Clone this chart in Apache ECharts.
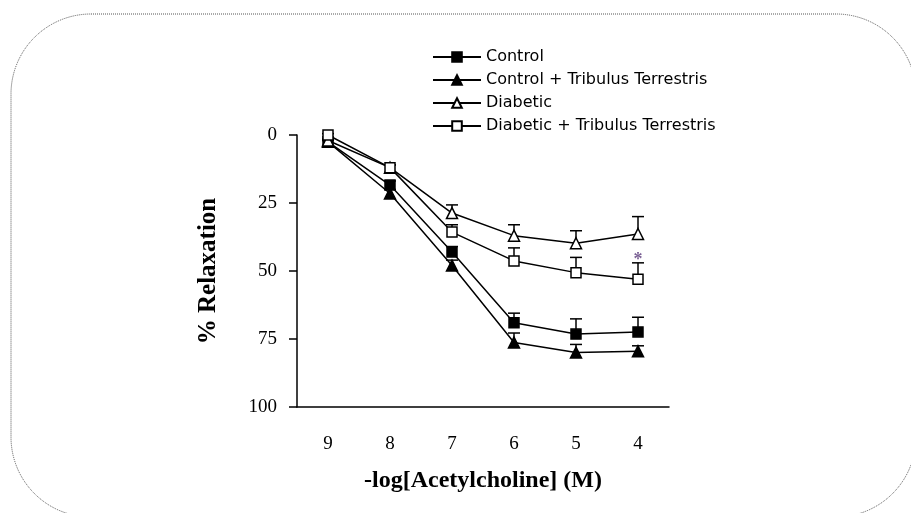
<!DOCTYPE html>
<html>
<head>
<meta charset="utf-8">
<script src="https://cdn.jsdelivr.net/npm/echarts@6/dist/echarts.min.js"></script>
<style>
  html, body { margin: 0; padding: 0; background: #fff; }
  #main { width: 911px; height: 513px; }
</style>
</head>
<body>
<div id="main"></div>
<script>
// x categories: -log[ACh] (M)
var xLabels = ['9', '8', '7', '6', '5', '4']
var yTicks = [0, 25, 50, 75, 100]

// mean % relaxation
var control = [2.5, 18.4, 43, 69, 73.2, 72.4]
var controlTT = [2.5, 21.5, 48, 76.3, 80, 79.5]
var diabetic = [2, 12, 28.7, 37, 39.8, 36.4]
var diabeticTT = [0, 12, 35.7, 46.3, 50.6, 53]

// SEM (drawn one-sided, upward)
var controlErr = [0.5, 1.5, 2, 3.5, 5.6, 5.4]
var controlTTErr = [0.5, 1.5, 2, 3.5, 3, 2]
var diabeticErr = [0.5, 1, 3, 4, 4.6, 6.4]
var diabeticTTErr = [0.5, 1, 2.7, 4.8, 5.6, 6]

// significance mark position (value axis)
var sigMarks = [null, null, null, null, null, 46]

var names = ['Control', 'Control + Tribulus Terrestris', 'Diabetic', 'Diabetic + Tribulus Terrestris']

var myChart = echarts.init(document.getElementById('main'))

function errData (vals, errs) {
  return vals.map(function (v, i) { return [i, v, errs[i]] })
}

function errSeries (name, vals, errs) {
  return {
    name: name,
    type: 'custom',
    z: 1,
    silent: true,
    renderItem: function (params, api) {
      var base = api.coord([api.value(0), api.value(1)])
      var top = api.coord([api.value(0), api.value(1) - api.value(2)])
      var style = { stroke: '#000', lineWidth: 1.5 }
      return {
        type: 'group',
        children: [
          { type: 'line', shape: { x1: base[0], y1: base[1], x2: top[0], y2: top[1] }, style: style },
          { type: 'line', shape: { x1: top[0] - 6, y1: top[1], x2: top[0] + 6, y2: top[1] }, style: style }
        ]
      }
    },
    data: errData(vals, errs)
  }
}

function lineSeries (name, vals, symbol, size, fill) {
  return {
    name: name,
    type: 'line',
    z: 3,
    data: vals,
    symbol: symbol,
    symbolSize: size,
    showAllSymbol: true,
    lineStyle: { color: '#000', width: 1.5 },
    itemStyle: { color: fill, borderColor: '#000', borderWidth: 1.5 },
    emphasis: { disabled: true }
  }
}

var serif = 'Liberation Serif'

var option = {
  animation: false,
  backgroundColor: '#fff',
  graphic: [{
    type: 'rect',
    shape: { x: 11, y: 14, width: 905, height: 503, r: 80 },
    style: { fill: 'none', stroke: '#555', lineWidth: 1, lineDash: [1, 1] },
    z: 0
  }],
  legend: {
    data: names,
    orient: 'vertical',
    left: 427,
    top: 44,
    itemWidth: 48,
    itemHeight: 12,
    itemGap: 7,
    textStyle: { fontFamily: 'DejaVu Sans', fontSize: 16, color: '#000' },
    selectedMode: false
  },
  grid: { left: 297, right: 242, top: 135, bottom: 106 },
  xAxis: {
    type: 'category',
    data: xLabels,
    boundaryGap: true,
    position: 'bottom',
    name: '-log[Acetylcholine] (M)',
    nameLocation: 'middle',
    nameGap: 62,
    nameTextStyle: { fontFamily: serif, fontWeight: 'bold', fontSize: 24, color: '#000' },
    axisLine: { onZero: false, lineStyle: { color: '#000', width: 1.5 } },
    axisTick: { show: false },
    axisLabel: { fontFamily: serif, fontSize: 19, color: '#000', margin: 28 }
  },
  yAxis: {
    type: 'value',
    inverse: true,
    min: yTicks[0],
    max: yTicks[yTicks.length - 1],
    interval: 25,
    name: '% Relaxation',
    nameLocation: 'middle',
    nameGap: 76,
    nameTextStyle: { fontFamily: serif, fontWeight: 'bold', fontSize: 25, color: '#000' },
    axisLine: { show: true, lineStyle: { color: '#000', width: 1.5 } },
    axisTick: { show: true, length: 8, lineStyle: { color: '#000', width: 1.5 } },
    splitLine: { show: false },
    axisLabel: { fontFamily: serif, fontSize: 19, color: '#000', margin: 20 }
  },
  series: [
    errSeries('e1', control, controlErr),
    errSeries('e2', controlTT, controlTTErr),
    errSeries('e3', diabetic, diabeticErr),
    errSeries('e4', diabeticTT, diabeticTTErr),
    lineSeries(names[0], control, 'rect', 10, '#000'),
    lineSeries(names[1], controlTT, 'triangle', 11, '#000'),
    lineSeries(names[2], diabetic, 'triangle', 11, '#fff'),
    lineSeries(names[3], diabeticTT, 'rect', 10, '#fff'),
    {
      name: 'sig',
      type: 'scatter',
      symbolSize: 0,
      data: sigMarks,
      silent: true,
      label: {
        show: true,
        position: 'inside',
        formatter: '*',
        fontFamily: serif,
        fontSize: 18,
        fontWeight: 'bold',
        color: '#5a3a7a'
      }
    }
  ]
}

myChart.setOption(option)
</script>
</body>
</html>
